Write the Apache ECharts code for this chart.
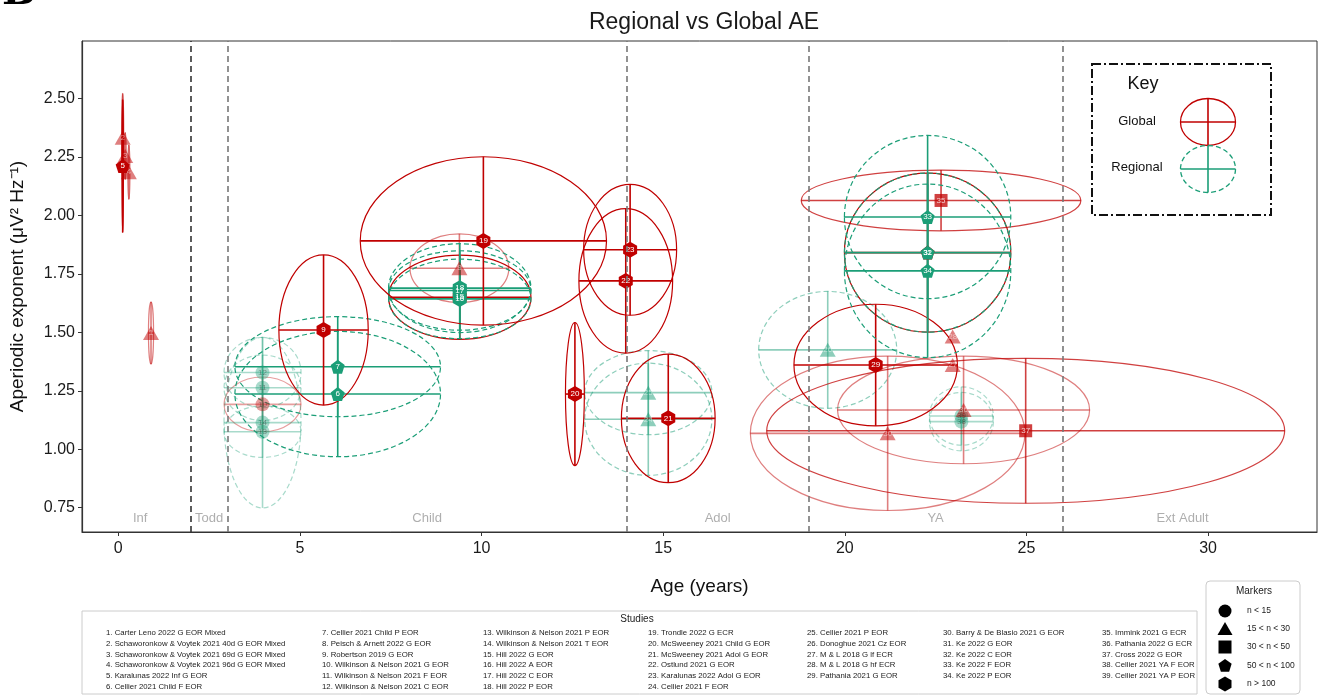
<!DOCTYPE html>
<html>
<head>
<meta charset="utf-8">
<script src="https://cdn.jsdelivr.net/npm/echarts@6/dist/echarts.min.js"></script>
<style>
  html, body { margin: 0; padding: 0; background: #ffffff; }
  #chart { width: 1321px; height: 695px; }
</style>
</head>
<body>
<div id="chart"></div>
<script>
// ---- Study data: mean age, mean aperiodic exponent and their SDs ----
const studyNames = [
  'Carter Leno 2022 G EOR Mixed',
  'Schaworonkow & Voytek 2021 40d G EOR Mixed',
  'Schaworonkow & Voytek 2021 69d G EOR Mixed',
  'Schaworonkow & Voytek 2021 96d G EOR Mixed',
  'Karalunas 2022 Inf G EOR',
  'Cellier 2021 Child F EOR',
  'Cellier 2021 Child P EOR',
  'Peisch & Arnett 2022 G EOR',
  'Robertson 2019 G EOR',
  'Wilkinson & Nelson 2021 G EOR',
  'Wilkinson & Nelson 2021 F EOR',
  'Wilkinson & Nelson 2021 C EOR',
  'Wilkinson & Nelson 2021 P EOR',
  'Wilkinson & Nelson 2021 T EOR',
  'Hill 2022 G EOR',
  'Hill 2022 A EOR',
  'Hill 2022 C EOR',
  'Hill 2022 P EOR',
  'Trondle 2022 G ECR',
  'McSweeney 2021 Child G EOR',
  'McSweeney 2021 Adol G EOR',
  'Ostlund 2021 G EOR',
  'Karalunas 2022 Adol G EOR',
  'Cellier 2021 F EOR',
  'Cellier 2021 P EOR',
  'Donoghue 2021 Cz EOR',
  'M & L 2018 G lf ECR',
  'M & L 2018 G hf ECR',
  'Pathania 2021 G EOR',
  'Barry & De Blasio 2021 G EOR',
  'Ke 2022 G EOR',
  'Ke 2022 C EOR',
  'Ke 2022 F EOR',
  'Ke 2022 P EOR',
  'Immink 2021 G ECR',
  'Pathania 2022 G ECR',
  'Cross 2022 G EOR',
  'Cellier 2021 YA F EOR',
  'Cellier 2021 YA P EOR'
];
const ages = [
  0.90, 0.12, 0.19, 0.29, 0.12, 6.04, 6.04, 9.39, 5.65, 3.97,
  3.97, 3.97, 3.97, 3.97, 9.40, 9.40, 9.40, 9.40, 10.05, 12.57,
  15.14, 13.97, 14.09, 14.59, 14.59, 19.53, 22.97, 22.97, 20.85, 21.18,
  22.28, 22.28, 22.28, 22.28, 22.65, 23.27, 24.98, 23.21, 23.21
];
const exponents = [
  1.497, 2.332, 2.254, 2.185, 2.211, 1.236, 1.353, 1.774, 1.510, 1.192,
  1.263, 1.328, 1.075, 1.114, 1.650, 1.643, 1.679, 1.689, 1.891, 1.236,
  1.132, 1.720, 1.853, 1.128, 1.242, 1.425, 1.360, 1.482, 1.360, 1.068,
  1.841, 1.841, 1.993, 1.763, 2.064, 1.168, 1.079, 1.118, 1.142
];
const ageSD = [
  0.07, 0.03, 0.03, 0.03, 0.02, 2.83, 2.83, 1.36, 1.23, 1.06,
  1.06, 1.06, 1.06, 1.06, 1.96, 1.96, 1.96, 1.96, 3.39, 0.26,
  1.29, 1.29, 1.28, 1.75, 1.75, 1.90, null, null, 2.25, 3.78,
  2.29, 2.29, 2.29, 2.29, 3.85, 3.47, 7.13, 0.88, 0.88
];
const exponentSD = [
  0.133, 0.19, 0.10, 0.116, 0.284, 0.268, 0.214, 0.147, 0.321, 0.117,
  0.14, 0.15, 0.11, 0.365, 0.18, 0.17, 0.17, 0.19, 0.36, 0.306,
  0.275, 0.309, 0.28, 0.24, 0.18, 0.25, null, null, 0.26, 0.33,
  0.34, 0.34, 0.349, 0.371, 0.13, 0.23, 0.31, 0.125, 0.125
];
// 'G' = global exponent, 'R' = regional exponent
const scope = [
  'G','G','G','G','G','R','R','G','G','G',
  'R','R','R','R','G','R','R','R','G','G',
  'G','G','G','R','R','R','G','G','G','G',
  'G','R','R','R','G','G','G','R','R'
];
// sample-size class: 0 n<15, 1 15<n<30, 2 30<n<50, 3 50<n<100, 4 n>100
const sizeClass = [
  1, 1, 1, 1, 3, 3, 3, 1, 4, 0,
  0, 0, 0, 0, 4, 4, 4, 4, 4, 4,
  4, 4, 4, 1, 1, 1, 1, 1, 4, 1,
  3, 3, 3, 3, 2, 1, 2, 0, 0
];

// ---- Axes and developmental stages ----
const xTicks = [0, 5, 10, 15, 20, 25, 30];
const yTicks = [0.75, 1.00, 1.25, 1.50, 1.75, 2.00, 2.25, 2.50];
const stageBounds = [2, 3, 14, 19, 26];
const stageNames = ['Inf', 'Todd', 'Child', 'Adol', 'YA', 'Ext Adult'];
const stageLabelAges = [0.6, 2.5, 8.5, 16.5, 22.5, 29.3];
const markerLabels = ['n < 15', '15 < n < 30', '30 < n < 50', '50 < n < 100', 'n > 100'];

// ---- Styling ----
const RED = '#c00000';
const GREEN = '#1b9e77';
const FONT = '"Liberation Sans", Arial, Helvetica, sans-serif';
const classOpacity = [0.38, 0.5, 0.75, 1, 1];
const PENTAGON = 'path://M0,-1 L0.951,-0.309 L0.588,0.809 L-0.588,0.809 L-0.951,-0.309 Z';
const HEXAGON = 'path://M0,-1 L0.866,-0.5 L0.866,0.5 L0,1 L-0.866,0.5 L-0.866,-0.5 Z';
const classSymbol = ['circle', 'triangle', 'rect', PENTAGON, HEXAGON];
const classSize = [[14, 14], [16, 14], [13, 13], [14, 14], [14, 16]];

function colorOf(i) { return scope[i] === 'G' ? RED : GREEN; }

// Ellipse + error-bar records, light (small n) ones drawn first
const order = studyNames.map((_, i) => i)
  .sort((a, b) => classOpacity[sizeClass[a]] - classOpacity[sizeClass[b]]);
const spreadData = order
  .filter(i => ageSD[i] != null && exponentSD[i] != null)
  .map(i => [ages[i], exponents[i], ageSD[i], exponentSD[i], i]);

const markerData = order.map(i => ({
  name: String(i + 1),
  value: [ages[i], exponents[i]],
  symbol: classSymbol[sizeClass[i]],
  symbolSize: classSize[sizeClass[i]],
  itemStyle: { color: colorOf(i), opacity: classOpacity[sizeClass[i]] },
  label: { color: sizeClass[i] === 0 ? '#111' : '#ffffff' }
}));

function renderSpread(params, api) {
  const i = api.value(4);
  const c = api.coord([api.value(0), api.value(1)]);
  const s = api.size([api.value(2), api.value(3)]);
  const col = colorOf(i);
  const op = classOpacity[sizeClass[i]];
  return {
    type: 'group',
    children: [
      { type: 'ellipse', shape: { cx: c[0], cy: c[1], rx: s[0], ry: s[1] },
        style: { fill: 'none', stroke: col, lineWidth: 1.2, lineDash: scope[i] === 'G' ? null : [5, 3], opacity: op } },
      { type: 'line', shape: { x1: c[0] - s[0], y1: c[1], x2: c[0] + s[0], y2: c[1] },
        style: { stroke: col, lineWidth: 1.6, opacity: op } },
      { type: 'line', shape: { x1: c[0], y1: c[1] - s[1], x2: c[0], y2: c[1] + s[1] },
        style: { stroke: col, lineWidth: 1.6, opacity: op } }
    ]
  };
}

// ---- Legend graphics (key, study list, marker sizes) ----
function regularPoints(cx, cy, r, n, rot) {
  const pts = [];
  for (let k = 0; k < n; k++) {
    const a = rot + k * 2 * Math.PI / n;
    pts.push([cx + r * Math.cos(a), cy + r * Math.sin(a)]);
  }
  return pts;
}

const graphics = [];
// panel letter
graphics.push({ type: 'text', left: 2, top: -26, style: { text: 'B', font: 'bold 40px "DejaVu Serif", serif', fill: '#000' } });

// Key box
graphics.push({ type: 'rect', shape: { x: 1092, y: 64, width: 179, height: 151 },
  style: { fill: 'none', stroke: '#111', lineWidth: 2, lineDash: [9, 3, 2, 3] } });
graphics.push({ type: 'text', x: 1143, y: 84, style: { text: 'Key', font: '18px ' + FONT, fill: '#111', align: 'center', verticalAlign: 'middle' } });
graphics.push({ type: 'text', x: 1137, y: 121, style: { text: 'Global', font: '13px ' + FONT, fill: '#111', align: 'center', verticalAlign: 'middle' } });
graphics.push({ type: 'text', x: 1137, y: 167, style: { text: 'Regional', font: '13px ' + FONT, fill: '#111', align: 'center', verticalAlign: 'middle' } });
[[122, RED, null], [169, GREEN, [5, 3]]].forEach(([cy, col, dash]) => {
  graphics.push({ type: 'ellipse', shape: { cx: 1208, cy: cy, rx: 27.5, ry: 23.5 },
    style: { fill: 'none', stroke: col, lineWidth: 1.3, lineDash: dash } });
  graphics.push({ type: 'line', shape: { x1: 1180.5, y1: cy, x2: 1235.5, y2: cy }, style: { stroke: col, lineWidth: 1.6 } });
  graphics.push({ type: 'line', shape: { x1: 1208, y1: cy - 23.5, x2: 1208, y2: cy + 23.5 }, style: { stroke: col, lineWidth: 1.6 } });
});

// Studies list
graphics.push({ type: 'rect', shape: { x: 82, y: 611, width: 1115, height: 83 },
  style: { fill: '#fff', stroke: '#cccccc', lineWidth: 1 } });
graphics.push({ type: 'text', x: 637, y: 619, style: { text: 'Studies', font: '10px ' + FONT, fill: '#222', align: 'center', verticalAlign: 'middle' } });
const colX = [106, 322, 483, 648, 807, 943, 1102];
const colCount = [6, 6, 6, 6, 5, 5, 5];
let idx = 0;
colX.forEach((x, c) => {
  for (let r = 0; r < colCount[c]; r++, idx++) {
    graphics.push({ type: 'text', x: x, y: 632.5 + r * 10.95,
      style: { text: (idx + 1) + '. ' + studyNames[idx], font: '7.8px ' + FONT, fill: '#222', verticalAlign: 'middle' } });
  }
});

// Marker-size legend
graphics.push({ type: 'rect', shape: { x: 1206, y: 581, width: 94, height: 113, r: 4 },
  style: { fill: '#fff', stroke: '#cccccc', lineWidth: 1 } });
graphics.push({ type: 'text', x: 1254, y: 591, style: { text: 'Markers', font: '10px ' + FONT, fill: '#222', align: 'center', verticalAlign: 'middle' } });
const legY = [611, 629, 647, 665.5, 684];
legY.forEach((y, k) => {
  const cx = 1225;
  if (k === 0) graphics.push({ type: 'circle', shape: { cx: cx, cy: y, r: 6.5 }, style: { fill: '#000' } });
  if (k === 1) graphics.push({ type: 'polygon', shape: { points: [[cx, y - 7], [cx + 7.5, y + 6], [cx - 7.5, y + 6]] }, style: { fill: '#000' } });
  if (k === 2) graphics.push({ type: 'rect', shape: { x: cx - 6.5, y: y - 6.5, width: 13, height: 13 }, style: { fill: '#000' } });
  if (k === 3) graphics.push({ type: 'polygon', shape: { points: regularPoints(cx, y + 0.5, 7, 5, -Math.PI / 2) }, style: { fill: '#000' } });
  if (k === 4) graphics.push({ type: 'polygon', shape: { points: regularPoints(cx, y, 7.5, 6, -Math.PI / 2) }, style: { fill: '#000' } });
  graphics.push({ type: 'text', x: 1247, y: y, style: { text: markerLabels[k], font: '8.5px ' + FONT, fill: '#222', verticalAlign: 'middle' } });
});

const chart = echarts.init(document.getElementById('chart'), null, { renderer: 'canvas' });
chart.setOption({
  animation: false,
  backgroundColor: '#ffffff',
  title: {
    text: 'Regional vs Global AE', left: 699, top: 6, textAlign: 'center',
    textStyle: { fontFamily: FONT, fontSize: 23, fontWeight: 'normal', color: '#1a1a1a' }
  },
  grid: { left: 81, right: 4, top: 41, bottom: 163, show: true, borderColor: '#333', borderWidth: 1, backgroundColor: 'transparent' },
  xAxis: {
    type: 'value', min: -1, max: 33,
    name: 'Age (years)', nameLocation: 'middle', nameGap: 45,
    nameTextStyle: { fontFamily: FONT, fontSize: 19, color: '#111' },
    axisLine: { show: true, onZero: false, lineStyle: { color: '#333', width: 1.2 } },
    axisTick: { show: true, length: 4, customValues: xTicks, lineStyle: { color: '#333' } },
    axisLabel: { customValues: xTicks, fontFamily: FONT, fontSize: 16, color: '#1a1a1a', margin: 9 },
    splitLine: { show: false }
  },
  yAxis: {
    type: 'value', min: 0.646, max: 2.746,
    name: 'Aperiodic exponent (\u03bcV\u00b2 Hz\u207b\u00b9)', nameLocation: 'middle', nameGap: 55,
    nameTextStyle: { fontFamily: FONT, fontSize: 19, color: '#111' },
    axisLine: { show: true, onZero: false, lineStyle: { color: '#333', width: 1.2 } },
    axisTick: { show: true, length: 4, customValues: yTicks, lineStyle: { color: '#333' } },
    axisLabel: { customValues: yTicks, fontFamily: FONT, fontSize: 16, color: '#1a1a1a', margin: 7,
      formatter: v => v.toFixed(2) },
    splitLine: { show: false }
  },
  graphic: graphics,
  series: [
    {
      type: 'custom', name: 'spread', clip: true, silent: true,
      renderItem: renderSpread,
      encode: { x: 0, y: 1 },
      data: spreadData,
      markLine: {
        silent: true, symbol: 'none', label: { show: false },
        lineStyle: { type: [6, 4], color: '#777', width: 1.6 },
        data: stageBounds.map((b, k) => ({ xAxis: b, lineStyle: { color: k === 0 ? '#333' : '#777' } }))
      },
      z: 2
    },
    {
      type: 'scatter', name: 'stages', silent: true, symbolSize: 0,
      data: stageNames.map((n, k) => ({ name: n, value: [stageLabelAges[k], 0.706] })),
      label: { show: true, position: 'inside', formatter: '{b}', fontFamily: FONT, fontSize: 13, color: '#9a9a9a' },
      z: 3
    },
    {
      type: 'scatter', name: 'studies', silent: true,
      data: markerData,
      label: { show: true, position: 'inside', formatter: '{b}', fontFamily: FONT, fontSize: 8 },
      z: 4
    }
  ]
});
</script>
</body>
</html>
